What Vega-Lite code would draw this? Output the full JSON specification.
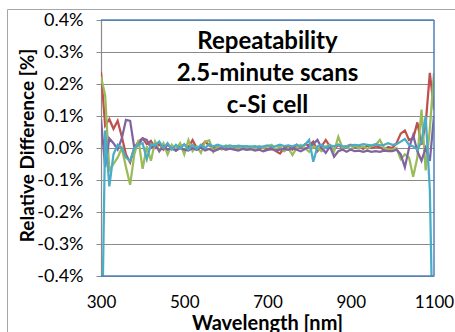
{
  "$schema": "https://vega.github.io/schema/vega-lite/v6.json",
  "width": 333,
  "height": 256,
  "autosize": {"type": "none"},
  "padding": {"left": 101, "top": 20, "right": 21, "bottom": 56},
  "background": "white",
  "config": {"view": {"stroke": null}, "font": "Lato"},
  "layer": [
    {
      "data": {
        "values": [
          {"wl": 300, "Scan 1": 0.238, "Scan 2": 0.222, "Scan 3": 0.09, "Scan 4": -0.8},
          {"wl": 310, "Scan 1": 0.07, "Scan 2": 0.165, "Scan 3": -0.06, "Scan 4": 0.055},
          {"wl": 320, "Scan 1": 0.09, "Scan 2": -0.07, "Scan 3": 0.03, "Scan 4": -0.12},
          {"wl": 330, "Scan 1": 0.06, "Scan 2": -0.05, "Scan 3": 0.015, "Scan 4": -0.02},
          {"wl": 340, "Scan 1": 0.085, "Scan 2": -0.03, "Scan 3": -0.005, "Scan 4": 0.01},
          {"wl": 350, "Scan 1": 0.035, "Scan 2": 0.0, "Scan 3": 0.03, "Scan 4": 0.0},
          {"wl": 360, "Scan 1": -0.02, "Scan 2": -0.06, "Scan 3": 0.088, "Scan 4": -0.03},
          {"wl": 370, "Scan 1": -0.045, "Scan 2": -0.115, "Scan 3": 0.085, "Scan 4": -0.04},
          {"wl": 380, "Scan 1": 0.0, "Scan 2": -0.02, "Scan 3": 0.0, "Scan 4": 0.0},
          {"wl": 390, "Scan 1": 0.02, "Scan 2": 0.025, "Scan 3": 0.01, "Scan 4": 0.01},
          {"wl": 400, "Scan 1": 0.03, "Scan 2": -0.065, "Scan 3": 0.03, "Scan 4": 0.015},
          {"wl": 410, "Scan 1": 0.012, "Scan 2": 0.005, "Scan 3": 0.025, "Scan 4": -0.035},
          {"wl": 420, "Scan 1": 0.022, "Scan 2": -0.04, "Scan 3": 0.0, "Scan 4": 0.012},
          {"wl": 430, "Scan 1": 0.0, "Scan 2": 0.02, "Scan 3": 0.01, "Scan 4": 0.008},
          {"wl": 440, "Scan 1": 0.012, "Scan 2": -0.01, "Scan 3": -0.01, "Scan 4": 0.02},
          {"wl": 450, "Scan 1": -0.005, "Scan 2": 0.015, "Scan 3": 0.005, "Scan 4": 0.0},
          {"wl": 460, "Scan 1": 0.01, "Scan 2": -0.02, "Scan 3": -0.005, "Scan 4": 0.015},
          {"wl": 470, "Scan 1": 0.0, "Scan 2": 0.01, "Scan 3": 0.0, "Scan 4": -0.005},
          {"wl": 480, "Scan 1": -0.008, "Scan 2": -0.005, "Scan 3": -0.008, "Scan 4": 0.01},
          {"wl": 490, "Scan 1": 0.005, "Scan 2": 0.015, "Scan 3": 0.0, "Scan 4": -0.002},
          {"wl": 500, "Scan 1": 0.01, "Scan 2": -0.02, "Scan 3": -0.005, "Scan 4": 0.012},
          {"wl": 510, "Scan 1": 0.002, "Scan 2": 0.025, "Scan 3": -0.008, "Scan 4": -0.005},
          {"wl": 520, "Scan 1": 0.025, "Scan 2": -0.01, "Scan 3": 0.0, "Scan 4": 0.01},
          {"wl": 530, "Scan 1": 0.0, "Scan 2": 0.005, "Scan 3": -0.006, "Scan 4": -0.003},
          {"wl": 540, "Scan 1": 0.005, "Scan 2": -0.015, "Scan 3": 0.002, "Scan 4": 0.01},
          {"wl": 550, "Scan 1": 0.02, "Scan 2": 0.02, "Scan 3": -0.008, "Scan 4": 0.0},
          {"wl": 560, "Scan 1": 0.008, "Scan 2": 0.024, "Scan 3": -0.003, "Scan 4": 0.012},
          {"wl": 570, "Scan 1": 0.0, "Scan 2": -0.012, "Scan 3": -0.01, "Scan 4": 0.005},
          {"wl": 580, "Scan 1": 0.005, "Scan 2": 0.005, "Scan 3": -0.005, "Scan 4": 0.01},
          {"wl": 590, "Scan 1": -0.003, "Scan 2": -0.005, "Scan 3": 0.0, "Scan 4": 0.006},
          {"wl": 600, "Scan 1": 0.004, "Scan 2": 0.008, "Scan 3": -0.006, "Scan 4": 0.005},
          {"wl": 610, "Scan 1": 0.0, "Scan 2": 0.0, "Scan 3": -0.002, "Scan 4": 0.008},
          {"wl": 620, "Scan 1": 0.006, "Scan 2": 0.005, "Scan 3": -0.005, "Scan 4": 0.004},
          {"wl": 630, "Scan 1": -0.002, "Scan 2": -0.004, "Scan 3": -0.008, "Scan 4": 0.007},
          {"wl": 640, "Scan 1": 0.005, "Scan 2": 0.006, "Scan 3": -0.003, "Scan 4": 0.005},
          {"wl": 650, "Scan 1": 0.0, "Scan 2": 0.0, "Scan 3": -0.006, "Scan 4": 0.006},
          {"wl": 660, "Scan 1": 0.003, "Scan 2": 0.004, "Scan 3": -0.004, "Scan 4": 0.004},
          {"wl": 670, "Scan 1": -0.002, "Scan 2": -0.003, "Scan 3": -0.008, "Scan 4": 0.006},
          {"wl": 680, "Scan 1": 0.004, "Scan 2": 0.006, "Scan 3": -0.005, "Scan 4": 0.003},
          {"wl": 690, "Scan 1": 0.0, "Scan 2": 0.0, "Scan 3": -0.01, "Scan 4": 0.005},
          {"wl": 700, "Scan 1": -0.005, "Scan 2": 0.005, "Scan 3": -0.006, "Scan 4": 0.008},
          {"wl": 710, "Scan 1": 0.002, "Scan 2": 0.01, "Scan 3": -0.004, "Scan 4": 0.004},
          {"wl": 720, "Scan 1": -0.01, "Scan 2": -0.005, "Scan 3": -0.008, "Scan 4": 0.006},
          {"wl": 730, "Scan 1": -0.017, "Scan 2": 0.005, "Scan 3": -0.005, "Scan 4": 0.01},
          {"wl": 740, "Scan 1": 0.0, "Scan 2": -0.01, "Scan 3": -0.003, "Scan 4": 0.006},
          {"wl": 750, "Scan 1": 0.005, "Scan 2": 0.0, "Scan 3": -0.006, "Scan 4": 0.008},
          {"wl": 760, "Scan 1": -0.005, "Scan 2": -0.022, "Scan 3": 0.0, "Scan 4": 0.005},
          {"wl": 770, "Scan 1": 0.01, "Scan 2": 0.0, "Scan 3": -0.005, "Scan 4": 0.01},
          {"wl": 780, "Scan 1": 0.0, "Scan 2": 0.01, "Scan 3": -0.01, "Scan 4": 0.004},
          {"wl": 790, "Scan 1": 0.012, "Scan 2": 0.0, "Scan 3": -0.003, "Scan 4": 0.01},
          {"wl": 800, "Scan 1": 0.008, "Scan 2": -0.012, "Scan 3": 0.005, "Scan 4": 0.025},
          {"wl": 810, "Scan 1": 0.02, "Scan 2": 0.005, "Scan 3": 0.012, "Scan 4": -0.043},
          {"wl": 820, "Scan 1": -0.01, "Scan 2": 0.0, "Scan 3": 0.025, "Scan 4": 0.005},
          {"wl": 830, "Scan 1": 0.005, "Scan 2": -0.01, "Scan 3": 0.0, "Scan 4": 0.01},
          {"wl": 840, "Scan 1": 0.025, "Scan 2": 0.005, "Scan 3": -0.015, "Scan 4": 0.0},
          {"wl": 850, "Scan 1": 0.005, "Scan 2": 0.01, "Scan 3": 0.005, "Scan 4": 0.008},
          {"wl": 860, "Scan 1": -0.005, "Scan 2": -0.01, "Scan 3": -0.027, "Scan 4": 0.005},
          {"wl": 870, "Scan 1": 0.01, "Scan 2": 0.035, "Scan 3": -0.01, "Scan 4": 0.01},
          {"wl": 880, "Scan 1": 0.0, "Scan 2": 0.0, "Scan 3": -0.005, "Scan 4": 0.006},
          {"wl": 890, "Scan 1": 0.005, "Scan 2": 0.005, "Scan 3": -0.012, "Scan 4": 0.004},
          {"wl": 900, "Scan 1": 0.01, "Scan 2": -0.005, "Scan 3": -0.005, "Scan 4": 0.008},
          {"wl": 910, "Scan 1": 0.002, "Scan 2": 0.008, "Scan 3": -0.01, "Scan 4": 0.01},
          {"wl": 920, "Scan 1": 0.005, "Scan 2": 0.0, "Scan 3": -0.008, "Scan 4": 0.008},
          {"wl": 930, "Scan 1": -0.003, "Scan 2": 0.005, "Scan 3": -0.012, "Scan 4": 0.012},
          {"wl": 940, "Scan 1": 0.008, "Scan 2": -0.003, "Scan 3": -0.008, "Scan 4": 0.01},
          {"wl": 950, "Scan 1": 0.0, "Scan 2": 0.006, "Scan 3": -0.012, "Scan 4": 0.008},
          {"wl": 960, "Scan 1": 0.005, "Scan 2": 0.01, "Scan 3": -0.01, "Scan 4": 0.012},
          {"wl": 970, "Scan 1": 0.002, "Scan 2": 0.025, "Scan 3": -0.012, "Scan 4": 0.008},
          {"wl": 980, "Scan 1": -0.005, "Scan 2": 0.0, "Scan 3": -0.008, "Scan 4": 0.01},
          {"wl": 990, "Scan 1": 0.003, "Scan 2": -0.005, "Scan 3": -0.01, "Scan 4": 0.015},
          {"wl": 1000, "Scan 1": 0.0, "Scan 2": -0.005, "Scan 3": -0.01, "Scan 4": 0.01},
          {"wl": 1010, "Scan 1": 0.015, "Scan 2": 0.0, "Scan 3": -0.005, "Scan 4": 0.012},
          {"wl": 1020, "Scan 1": 0.045, "Scan 2": -0.035, "Scan 3": -0.02, "Scan 4": 0.02},
          {"wl": 1030, "Scan 1": 0.055, "Scan 2": -0.02, "Scan 3": -0.06, "Scan 4": 0.028},
          {"wl": 1040, "Scan 1": 0.025, "Scan 2": -0.03, "Scan 3": 0.0, "Scan 4": 0.01},
          {"wl": 1050, "Scan 1": 0.03, "Scan 2": -0.09, "Scan 3": 0.04, "Scan 4": 0.005},
          {"wl": 1060, "Scan 1": 0.08, "Scan 2": -0.03, "Scan 3": -0.01, "Scan 4": -0.005},
          {"wl": 1070, "Scan 1": 0.01, "Scan 2": 0.12, "Scan 3": -0.04, "Scan 4": 0.02},
          {"wl": 1080, "Scan 1": 0.075, "Scan 2": -0.07, "Scan 3": 0.0, "Scan 4": 0.1},
          {"wl": 1090, "Scan 1": 0.235, "Scan 2": 0.06, "Scan 3": -0.04, "Scan 4": -0.13},
          {"wl": 1100, "Scan 1": 0.12, "Scan 2": 0.235, "Scan 3": 0.1, "Scan 4": -0.8}
        ]
      },
      "transform": [{"fold": ["Scan 1", "Scan 2", "Scan 3", "Scan 4"], "as": ["scan", "v"]}],
      "mark": {"type": "line", "strokeWidth": 2.25, "clip": true},
      "encoding": {
        "x": {
          "field": "wl", "type": "quantitative",
          "scale": {"domain": [300, 1100], "nice": false, "zero": false},
          "axis": {
            "values": [300, 500, 700, 900, 1100],
            "tickCount": 10,
            "format": "d",
            "grid": false, "domain": false, "ticks": false, "tickSize": 0,
            "labelPadding": 18, "labelFontSize": 17, "labelColor": "#000000", "labelFont": "Lato",
            "labelFlush": false, "labelOverlap": false,
            "title": "Wavelength [nm]", "titleFont": "Lato", "titleFontWeight": "bold", "titleFontSize": 20,
            "titleColor": "#000000", "titleX": 166, "titleY": 53, "titleBaseline": "alphabetic", "titleAlign": "center"
          }
        },
        "y": {
          "field": "v", "type": "quantitative",
          "scale": {"domain": [-0.4, 0.4], "nice": false, "zero": false},
          "axis": {
            "values": [-0.4, -0.3, -0.2, -0.1, 0, 0.1, 0.2, 0.3, 0.4],
            "tickCount": 12,
            "labelExpr": "(datum.value < -0.00001 ? '-' : '') + format(abs(datum.value), '.1f') + '%'",
            "labelOverlap": false,
            "grid": true, "gridColor": "#8a8a8a", "gridWidth": 1,
            "domainColor": "#8a8a8a", "domainWidth": 1.2,
            "tickColor": "#8a8a8a", "tickSize": 5, "tickWidth": 1,
            "labelPadding": 13, "labelFontSize": 18, "labelColor": "#000000", "labelFont": "Lato",
            "labelBaseline": "middle",
            "title": "Relative Difference [%]", "titleFont": "Lato", "titleFontWeight": "bold", "titleFontSize": 19,
            "titleColor": "#000000", "titleX": -74, "titleY": 125, "titleAngle": -90,
            "titleAlign": "center", "titleBaseline": "middle"
          }
        },
        "color": {
          "field": "scan", "type": "nominal",
          "scale": {"domain": ["Scan 1", "Scan 2", "Scan 3", "Scan 4"], "range": ["#C0504D", "#9BBB59", "#8064A2", "#4BACC6"]},
          "legend": null
        }
      }
    },
    {
      "data": {"values": [{}]},
      "mark": {"type": "rect", "fill": "transparent", "stroke": "#a6a6a6", "strokeWidth": 1, "clip": false},
      "encoding": {
        "x": {"datum": 75.4},
        "x2": {"datum": 1300},
        "y": {"datum": 0.4328},
        "y2": {"datum": -0.9}
      }
    },
    {
      "data": {"values": [{}]},
      "mark": {"type": "rule", "color": "#4F81BD", "strokeWidth": 1.5},
      "encoding": {"x": {"datum": 300}, "x2": {"datum": 1100}, "y": {"datum": 0.4}}
    },
    {
      "data": {"values": [{}]},
      "mark": {"type": "rule", "color": "#4F81BD", "strokeWidth": 1.5},
      "encoding": {"x": {"datum": 300}, "x2": {"datum": 1100}, "y": {"datum": -0.4}}
    },
    {
      "data": {"values": [{}]},
      "mark": {"type": "rule", "color": "#4F81BD", "strokeWidth": 1.5},
      "encoding": {"x": {"datum": 1100}, "y": {"datum": -0.4}, "y2": {"datum": 0.4}}
    },
    {
      "data": {"values": [{}]},
      "mark": {"type": "text", "font": "Lato", "fontWeight": "bold", "fontSize": 24, "color": "#000000", "align": "center", "baseline": "middle"},
      "encoding": {"x": {"datum": 700}, "y": {"datum": 0.331}, "text": {"value": "Repeatability"}}
    },
    {
      "data": {"values": [{}]},
      "mark": {"type": "text", "font": "Lato", "fontWeight": "bold", "fontSize": 24, "color": "#000000", "align": "center", "baseline": "middle"},
      "encoding": {"x": {"datum": 700}, "y": {"datum": 0.231}, "text": {"value": "2.5-minute scans"}}
    },
    {
      "data": {"values": [{}]},
      "mark": {"type": "text", "font": "Lato", "fontWeight": "bold", "fontSize": 24, "color": "#000000", "align": "center", "baseline": "middle"},
      "encoding": {"x": {"datum": 700}, "y": {"datum": 0.131}, "text": {"value": "c-Si cell"}}
    }
  ]
}
